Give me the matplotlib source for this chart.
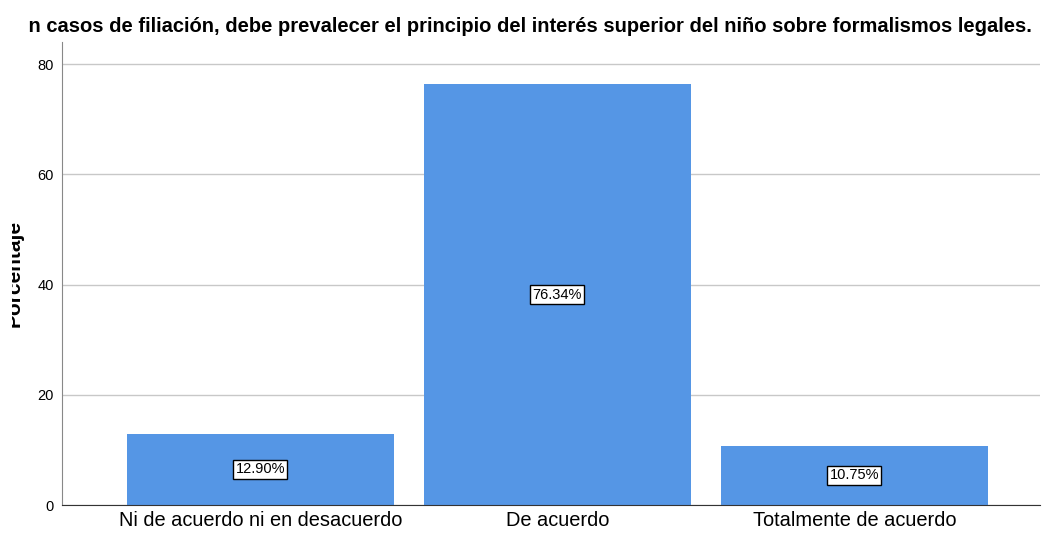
import matplotlib.pyplot as plt
from matplotlib.transforms import Bbox
import numpy as np

plt.rcParams['font.family'] = ['Liberation Sans', 'DejaVu Sans']

categories = ['Ni de acuerdo ni en desacuerdo', 'De acuerdo', 'Totalmente de acuerdo']
percentages = [12.90, 76.34, 10.75]
title = 'En casos de filiación, debe prevalecer el principio del interés superior del niño sobre formalismos legales.'

fig = plt.figure(figsize=(10.43, 5.33), dpi=100)
ax = fig.add_axes([0.0594, 0.0525, 0.9376, 0.8685])

x = np.arange(len(categories))
bars = ax.bar(x, percentages, width=0.9, color='#5596E5', zorder=2)

for bar, v in zip(bars, percentages):
    ax.text(bar.get_x() + bar.get_width() / 2, v / 2, f'{v:.2f}%',
            ha='center', va='center', fontsize=10.5, zorder=3,
            bbox=dict(boxstyle='square,pad=0.15', facecolor='white',
                      edgecolor='black', linewidth=1))

ax.set_xlim(-0.668, 2.625)
ax.set_ylim(0, 84)
ax.set_yticks([0, 20, 40, 60, 80])
ax.set_xticks(x)
ax.set_xticklabels(categories, fontsize=14.4)
ax.tick_params(axis='x', length=0, pad=4)
ax.tick_params(axis='y', length=0, labelsize=10.5, pad=6)
ax.grid(axis='y', color='#c8c8c8', linewidth=1, zorder=0)

for s in ['top', 'right']:
    ax.spines[s].set_visible(False)
ax.spines['left'].set_color('#888888')
ax.spines['bottom'].set_color('#333333')

# the original export is cropped on the left: title and y label lose their start
tt = fig.text(1032 / 1043, 1 - 27 / 533, title, ha='right', va='center',
              fontsize=14.5, fontweight='bold')
tt.set_clip_box(Bbox([[29, 0], [1043, 533]]))
tt.set_clip_on(True)
yl = fig.text(24 / 1043, 1 - 273 / 533, 'Porcentaje', rotation=90, ha='right',
              va='center', fontsize=15, fontweight='bold')
yl.set_clip_box(Bbox([[12, 0], [1043, 533]]))
yl.set_clip_on(True)

fig.savefig('out.png', dpi=100, facecolor='white')
